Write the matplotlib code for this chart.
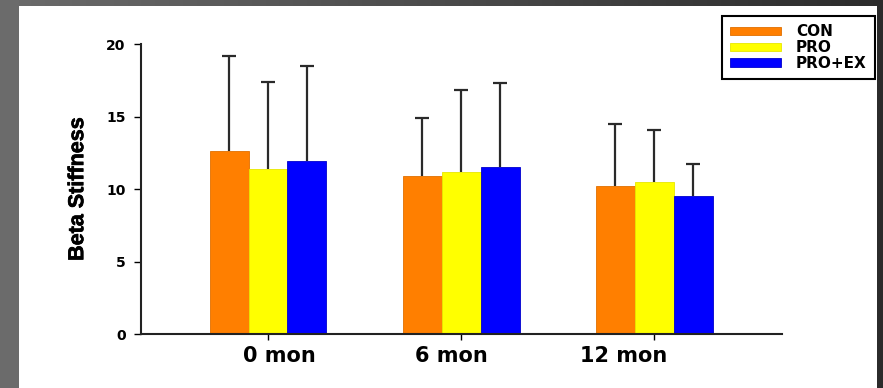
import numpy as np
import matplotlib
matplotlib.use("Agg")
import matplotlib.pyplot as plt
import matplotlib.patheffects as pe
from matplotlib.patches import Rectangle
from matplotlib.transforms import ScaledTranslation, blended_transform_factory

categories = ["0 mon", "6 mon", "12 mon"]
groups = ["CON", "PRO", "PRO+EX"]
means = {
    "CON": [12.6, 10.9, 10.2],
    "PRO": [11.4, 11.2, 10.5],
    "PRO+EX": [11.9, 11.5, 9.5],
}
sd = {
    "CON": [6.6, 4.0, 4.3],
    "PRO": [6.0, 5.6, 3.6],
    "PRO+EX": [6.6, 5.8, 2.2],
}
colors = {"CON": "#FF7F00", "PRO": "#FFFF00", "PRO+EX": "#0000FF"}
edges = {"CON": "#E07000", "PRO": "#E8E800", "PRO+EX": "#0000CC"}
y_ticks = [0, 5, 10, 15, 20]
# horizontal nudge of each category caption, in points
caption_shift = [8, -7, -22]

W, H = 883, 388
fig = plt.figure(figsize=(W / 100, H / 100), dpi=100)

# slide-style dark frame with a horizontal gradient
bg = fig.add_axes([0, 0, 1, 1], zorder=-10)
grad = np.linspace(0.42, 0.17, 256)[None, :]
bg.imshow(np.dstack([grad, grad, grad]), aspect="auto", extent=[0, 1, 0, 1])
bg.set_xlim(0, 1)
bg.set_ylim(0, 1)
bg.axis("off")
bg.add_patch(Rectangle((0, 0), 19 / W, 1, facecolor="#6b6b6b", edgecolor="none"))
bg.add_patch(Rectangle((19 / W, 0), (877 - 19) / W, (388 - 6) / H,
                       facecolor="white", edgecolor="none"))

ax = fig.add_axes([141 / W, 1 - 334 / H, (782 - 141) / W, (334 - 44) / H])
ax.set_facecolor("none")

x = np.arange(len(categories))
width = 0.202
cap_half = 0.034
offsets = [-width, 0, width]
handles = []
for g, off in zip(groups, offsets):
    xs = x + off
    m = np.array(means[g])
    top = m + np.array(sd[g])
    b = ax.bar(xs, m, width, color=colors[g], edgecolor=edges[g],
               linewidth=0.6, label=g, zorder=2)
    # upper-only error bars
    ax.vlines(xs, m, top, color="#2a2a2a", linewidth=1.6, zorder=1)
    ax.hlines(top, xs - cap_half, xs + cap_half, color="#2a2a2a", linewidth=1.6, zorder=1)
    handles.append(b)

ax.set_xlim(-0.658, 2.663)
ax.set_ylim(0, 20)
ax.set_yticks(y_ticks)
ax.set_yticklabels([str(t) for t in y_ticks], fontsize=10, fontweight="bold",
                   family="DejaVu Sans")
ax.set_xticks(x)
ax.set_xticklabels([])
ax.tick_params(axis="y", direction="out", length=5, width=1, pad=6)
ax.tick_params(axis="x", direction="out", length=4, width=1)
for s in ["top", "right"]:
    ax.spines[s].set_visible(False)
for s in ["left", "bottom"]:
    ax.spines[s].set_linewidth(1.5)
    ax.spines[s].set_color("#222222")

# category captions under the ticks
base = blended_transform_factory(ax.transData, ax.transAxes)
for xi, name, dx in zip(x, categories, caption_shift):
    tr = base + ScaledTranslation(dx / 72, -9 / 72, fig.dpi_scale_trans)
    ax.text(xi, 0, name, transform=tr, ha="center", va="top", fontsize=15,
            fontweight="bold", family="DejaVu Sans")

ylab = ax.set_ylabel("Beta Stiffness", fontsize=15.5, fontweight="bold",
                     family="Liberation Sans", labelpad=13)
ylab.set_path_effects([pe.withStroke(linewidth=0.5, foreground="black")])

leg = fig.legend(handles=handles, labels=groups, loc="upper right",
                 bbox_to_anchor=(875 / W, 1 - 16 / H), borderaxespad=0,
                 frameon=True, fancybox=False,
                 edgecolor="black", framealpha=1, handlelength=3.3, handleheight=0.45,
                 handletextpad=1.0, labelspacing=0.05, borderpad=0.55,
                 prop={"family": "DejaVu Sans", "weight": "bold", "size": 11})
leg.get_frame().set_linewidth(1.5)

fig.savefig("out.png", dpi=100)
